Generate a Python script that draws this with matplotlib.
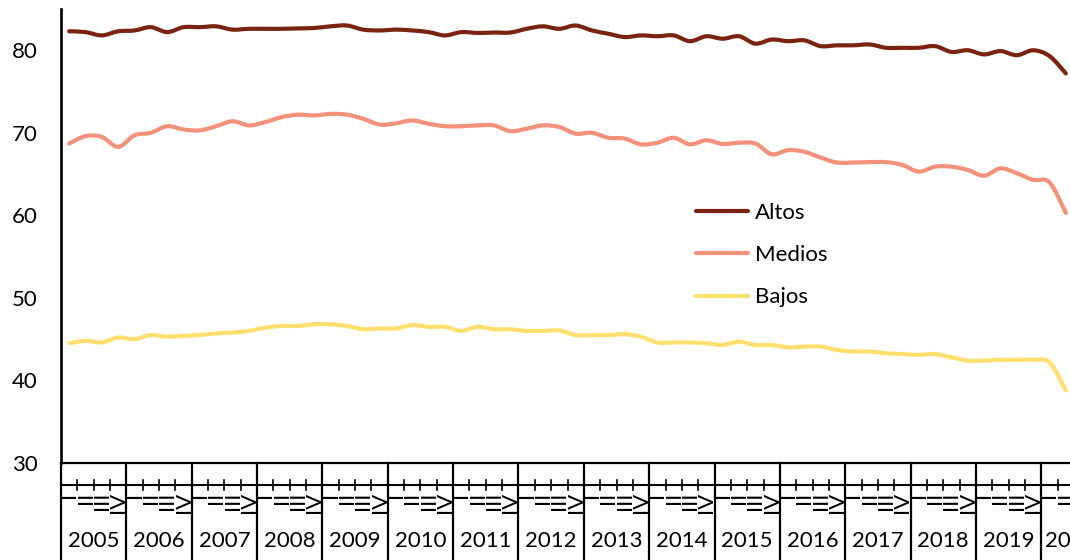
import numpy as np
import matplotlib
matplotlib.use("Agg")
from matplotlib import pyplot as plt
from matplotlib.path import Path
from matplotlib.patches import PathPatch
from matplotlib.lines import Line2D
from matplotlib.transforms import blended_transform_factory

# Quarterly values 2005-I .. 2020-II
altos = [82.3, 82.2, 81.8, 82.3, 82.4, 82.8, 82.2, 82.8, 82.8, 82.9,
         82.5, 82.6, 82.6, 82.6, 82.65, 82.7, 82.9, 83.0, 82.5, 82.4,
         82.5, 82.4, 82.2, 81.8, 82.2, 82.1, 82.15, 82.15, 82.6, 82.9,
         82.6, 83.0, 82.4, 82.0, 81.6, 81.8, 81.7, 81.8, 81.1, 81.7,
         81.4, 81.7, 80.8, 81.3, 81.1, 81.2, 80.5, 80.6, 80.6, 80.7,
         80.3, 80.3, 80.3, 80.5, 79.8, 80.0, 79.5, 79.9, 79.4, 80.0,
         79.3, 77.2]
medios = [68.7, 69.6, 69.5, 68.3, 69.7, 70.0, 70.8, 70.4, 70.3, 70.8,
          71.4, 70.9, 71.3, 71.9, 72.2, 72.1, 72.3, 72.2, 71.7, 71.0,
          71.15, 71.5, 71.1, 70.8, 70.8, 70.9, 70.9, 70.2, 70.5, 70.9,
          70.7, 69.9, 70.0, 69.4, 69.3, 68.6, 68.8, 69.4, 68.6, 69.1,
          68.65, 68.8, 68.7, 67.4, 67.9, 67.7, 67.0, 66.4, 66.4, 66.45,
          66.45, 66.1, 65.3, 65.9, 65.9, 65.5, 64.8, 65.7, 65.1, 64.3,
          64.0, 60.3]
bajos = [44.5, 44.8, 44.6, 45.2, 45.0, 45.5, 45.3, 45.4, 45.5, 45.7,
         45.8, 46.0, 46.4, 46.6, 46.6, 46.8, 46.8, 46.6, 46.2, 46.3,
         46.3, 46.7, 46.5, 46.5, 46.0, 46.5, 46.2, 46.2, 46.0, 46.0,
         46.05, 45.5, 45.5, 45.5, 45.6, 45.3, 44.6, 44.6, 44.6, 44.5,
         44.3, 44.7, 44.3, 44.3, 44.0, 44.1, 44.1, 43.7, 43.5, 43.5,
         43.3, 43.2, 43.1, 43.2, 42.8, 42.4, 42.4, 42.5, 42.5, 42.5,
         42.2, 38.8]

series_names = ["Altos", "Medios", "Bajos"]
series_colors = ["#7b2311", "#f3917a", "#ffe06e"]
years = list(range(2005, 2021))
quarters = ["I", "II", "III", "IV"]
yticks = [30, 40, 50, 60, 70, 80]

FONT = "Lato"
FS = 16


def smooth_path(xs, ys):
    """Excel-like smoothed line: cubic Bezier through every point."""
    pts = np.column_stack([xs, ys]).astype(float)
    n = len(pts)
    verts = [pts[0]]
    codes = [Path.MOVETO]
    for i in range(n - 1):
        p0 = pts[i - 1] if i > 0 else pts[i]
        p1, p2 = pts[i], pts[i + 1]
        p3 = pts[i + 2] if i + 2 < n else pts[i + 1]
        verts += [p1 + (p2 - p0) / 6.0, p2 - (p3 - p1) / 6.0, p2]
        codes += [Path.CURVE4] * 3
    return Path(verts, codes)


W, H = 1070, 560
fig = plt.figure(figsize=(W / 100, H / 100), dpi=100, facecolor="white")

ax_left, ax_right, ax_top, ax_bot = 61, 1074, 9, 463
ax = fig.add_axes([ax_left / W, 1 - ax_bot / H,
                   (ax_right - ax_left) / W, (ax_bot - ax_top) / H])
n = len(altos)
x = np.arange(n)
ax.set_xlim(-0.5, n - 0.5)
ax.set_ylim(30, 85)

for vals, c in zip([altos, medios, bajos], series_colors):
    ax.add_patch(PathPatch(smooth_path(x, vals), facecolor="none", edgecolor=c,
                           lw=3.0, capstyle="round", joinstyle="round", zorder=3))

# y axis
ax.set_yticks(yticks)
ax.set_yticklabels([str(v) for v in yticks], fontsize=FS, family=FONT)
ax.tick_params(axis="y", length=0, pad=17)
ax.set_xticks([])
for s in ("top", "right"):
    ax.spines[s].set_visible(False)
ax.spines["left"].set_linewidth(1.9)
ax.spines["bottom"].set_linewidth(1.6)


def yfrac(px):
    return (ax_bot - px) / (ax_bot - ax_top)


tr = blended_transform_factory(ax.transData, ax.transAxes)

# multi-level category axis: quarters, then years
ax.plot([-0.5, n + 1], [yfrac(485)] * 2, color="black", lw=1.5,
        transform=tr, clip_on=False)
for k in range(len(years)):
    ax.plot([4 * k - 0.5] * 2, [0, yfrac(H + 2)], color="black", lw=1.6,
            transform=tr, clip_on=False)
for i in range(n + 1):
    if i % 4 != 0:
        ax.plot([i - 0.5] * 2, [yfrac(480), yfrac(490)], color="black", lw=1.2,
                transform=tr, clip_on=False)
for i in range(n):
    ax.text(i, yfrac(492), quarters[i % 4], rotation=90, ha="center", va="top",
            fontsize=FS, family=FONT, transform=tr, clip_on=False)
for k, yr in enumerate(years):
    if yr == years[-1]:
        ax.text(4 * k - 0.3, yfrac(541), str(yr), ha="left", va="center",
                fontsize=FS, family=FONT, transform=tr, clip_on=False)
    else:
        ax.text(4 * k + 1.5, yfrac(541), str(yr), ha="center", va="center",
                fontsize=FS, family=FONT, transform=tr, clip_on=False)

# legend
handles = [Line2D([], [], color=c, lw=3.0, solid_capstyle="round")
           for c in series_colors]
leg = ax.legend(handles, series_names, loc="upper left",
                bbox_to_anchor=(696 / W, 1 - 203 / H), bbox_transform=fig.transFigure,
                frameon=False, borderpad=0, borderaxespad=0, handlelength=2.35,
                handletextpad=0.3, labelspacing=1.0,
                prop={"family": FONT, "size": FS})

fig.savefig("out.png", dpi=100, facecolor="white")
